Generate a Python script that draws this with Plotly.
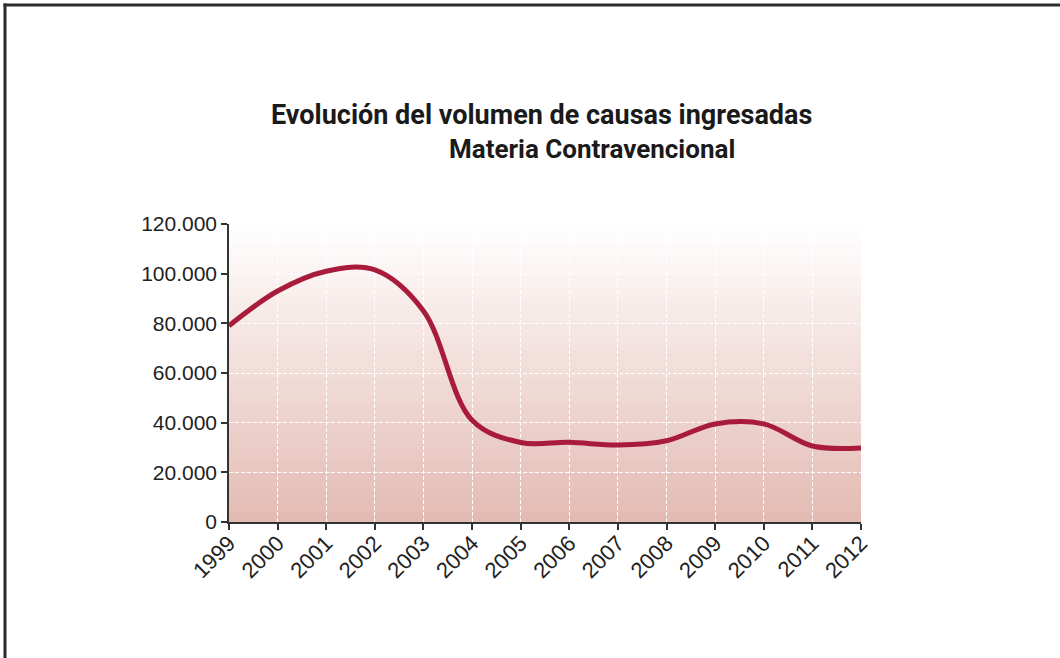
import plotly.graph_objects as go

years = [1999, 2000, 2001, 2002, 2003, 2004, 2005, 2006, 2007, 2008, 2009, 2010, 2011, 2012]
causas = [79000, 93000, 101000, 101500, 85000, 41000, 32000, 32100, 31000, 32700, 39500, 39500, 30600, 29800]
year_labels = [str(y) for y in years]
y_ticks = [0, 20000, 40000, 60000, 80000, 100000, 120000]
y_labels = ["0", "20.000", "40.000", "60.000", "80.000", "100.000", "120.000"]

title_line1 = "Evolución del volumen de causas ingresadas"
title_line2 = "Materia Contravencional"

W, H = 1060, 658
L, R, T, B = 229, 861, 224, 522  # plot area pixels

def px(xp):
    return (xp - L) / (R - L)

def py(yp):
    return (B - yp) / (B - T)

fig = go.Figure()
fig.add_trace(go.Scatter(
    x=years, y=causas, mode="lines",
    line=dict(color="#a81b3b", width=5, shape="spline", smoothing=1.0),
    hoverinfo="x+y", showlegend=False,
))

# vertical gradient background (white top -> pink bottom)
shapes = []
N = 80
top = (255, 255, 255)
bot = (227, 186, 178)
for i in range(N):
    f = (i + 0.5) / N  # 0 bottom .. 1 top
    c = tuple(round(bot[k] + (top[k] - bot[k]) * f) for k in range(3))
    shapes.append(dict(
        type="rect", xref="x", yref="y", layer="below",
        x0=years[0], x1=years[-1],
        y0=120000 * i / N, y1=120000 * (i + 1) / N + 200,
        fillcolor="rgb(%d,%d,%d)" % c, line=dict(width=0),
    ))

# frame lines (top and left)
shapes.append(dict(type="line", xref="paper", yref="paper",
                   x0=px(3.5), x1=px(1062), y0=py(5), y1=py(5),
                   line=dict(color="#2b2b2b", width=3)))
shapes.append(dict(type="line", xref="paper", yref="paper",
                   x0=px(5), x1=px(5), y0=py(3.5), y1=py(660),
                   line=dict(color="#2b2b2b", width=3)))

title_font = dict(family="Roboto, Liberation Sans, Arial, sans-serif",
                  size=27, color="#1a1a1a", weight="bold")

fig.update_layout(
    width=W, height=H,
    margin=dict(l=L, r=W - R, t=T, b=H - B, pad=0),
    paper_bgcolor="white", plot_bgcolor="white",
    shapes=shapes,
    annotations=[
        dict(text=title_line1, xref="paper", yref="paper",
             x=px(541.5), y=py(115), xanchor="center", yanchor="middle",
             showarrow=False, font=title_font),
        dict(text=title_line2, xref="paper", yref="paper",
             x=px(591.5), y=py(149), xanchor="center", yanchor="middle",
             showarrow=False, font=dict(title_font, size=26)),
    ],
    xaxis=dict(
        range=[years[0], years[-1]], tickmode="array", tickvals=years, ticktext=year_labels,
        tickangle=-45, ticks="outside", ticklen=6, tickwidth=1.5, tickcolor="#333",
        ticklabelstandoff=-8,
        showline=True, linecolor="#333", linewidth=1.5,
        showgrid=True, gridcolor="white", gridwidth=1, griddash="4px,2px",
        zeroline=False,
        tickfont=dict(family="Liberation Sans, Arial, sans-serif", size=22, color="#222"),
    ),
    yaxis=dict(
        range=[0, 120000], tickmode="array", tickvals=y_ticks, ticktext=y_labels,
        ticks="outside", ticklen=6, tickwidth=1.5, tickcolor="#333",
        showline=True, linecolor="#333", linewidth=1.5,
        showgrid=True, gridcolor="white", gridwidth=1, griddash="4px,2px",
        zeroline=False,
        tickfont=dict(family="Liberation Sans, Arial, sans-serif", size=21, color="#222"),
    ),
)

fig.write_html("out.html", config={"displayModeBar": False},
               post_script="document.body.style.margin='0';")
